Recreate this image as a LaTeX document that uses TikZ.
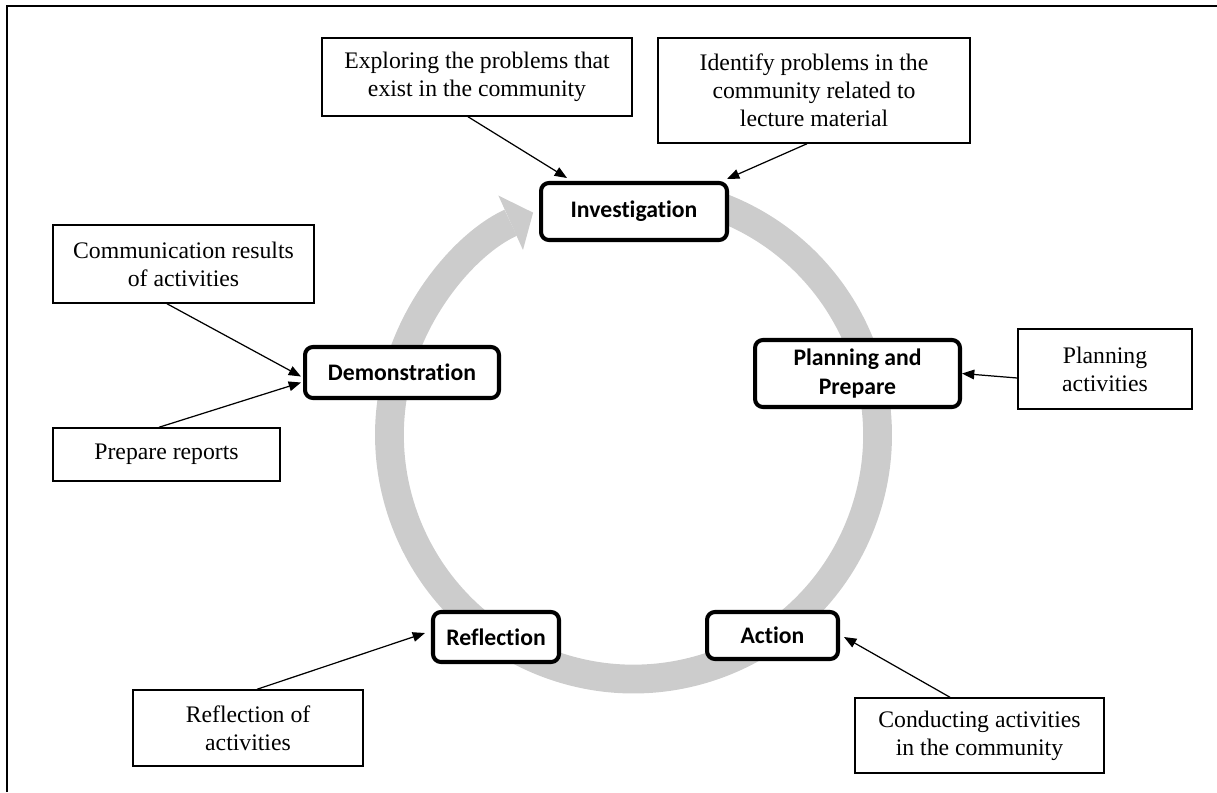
\documentclass[tikz,border=0pt]{standalone}
\usepackage{fontspec}
\setmainfont{Liberation Serif}
\newfontfamily\stagefont[Ligatures=NoCommon]{Carlito}
\usetikzlibrary{arrows.meta,calc}
\definecolor{ringgray}{RGB}{204,204,204}
\tikzstyle{every node}=[align=center,inner sep=0pt]
\tikzstyle{stage}=[draw=black,line width=2.3pt,rounded corners=4.5pt,fill=white,font=\stagefont\bfseries\fontsize{13.5}{16}\selectfont]
\tikzstyle{note}=[draw=black,line width=0.85pt,fill=white,font=\fontsize{13.5}{16}\selectfont]
\tikzstyle{link}=[line width=0.7pt,-{Triangle[length=7pt,width=5.5pt]}]

\begin{document}
\begin{tikzpicture}[x=0.02cm,y=-0.02cm]
  \useasboundingbox (0,0) rectangle (1217,792);
  \draw[line width=1.2pt] (7,792) -- (7,6) -- (1217,6);

  % the cycle
  \coordinate (hub) at (633.5,435);
  \draw[ringgray,line width=16.4pt,-{Triangle[length=14pt,width=34pt,line width=0pt]}]
    ($(hub)+(-70:244)$) arc[start angle=-70,end angle=245.7,radius=244];

  \node[stage,minimum width=3.72cm,minimum height=1.14cm] (invest) at (634,211.5) {Investigation};
  \node[stage,minimum width=4.1cm,minimum height=1.34cm] (plan) at (857.5,373.5) {Planning and\\Prepare};
  \node[stage,minimum width=2.62cm,minimum height=0.94cm] (act) at (772.5,635.5) {Action};
  \node[stage,minimum width=2.52cm,minimum height=1.0cm] (refl) at (496,637) {Reflection};
  \node[stage,minimum width=3.88cm,minimum height=1.02cm] (demo) at (402,372.5) {Demonstration};

  \node[note,minimum width=6.2cm,minimum height=1.56cm] (explore) at (477,77) {Exploring the problems that\\exist in the community};
  \node[note,minimum width=6.24cm,minimum height=2.1cm] (ident) at (814,90.5) {Identify problems in the\\community related to\\lecture material};
  \node[note,minimum width=5.22cm,minimum height=1.56cm] (comm) at (183.5,264) {Communication results\\of activities};
  \node[note,minimum width=4.54cm,minimum height=1.06cm] (prep) at (166.5,454.5) {Prepare reports};
  \node[note,minimum width=3.48cm,minimum height=1.6cm] (planact) at (1105,369) {Planning\\activities};
  \node[note,minimum width=4.6cm,minimum height=1.52cm] (reflact) at (248,728) {Reflection of\\activities};
  \node[note,minimum width=4.98cm,minimum height=1.5cm] (cond) at (979.5,735.5) {Conducting activities\\in the community};

  \draw[link] ($(explore.south)+(-9,0)$) -- ($(invest.north west)+(28,-3)$);
  \draw[link] ($(ident.south)+(-7,0)$) -- ($(invest.north east)+(-2,-2)$);
  \draw[link] ($(comm.south)+(-16.5,0)$) -- ($(demo.west)+(-2,4)$);
  \draw[link] ($(prep.north)+(-7.5,0)$) -- ($(demo.west)+(-2,10)$);
  \draw[link] ($(planact.west)+(0,9)$) -- (plan.east);
  \draw[link] ($(reflact.north)+(9,0)$) -- ($(refl.west)+(-6,-4)$);
  \draw[link] ($(cond.north)+(-29.5,0)$) -- ($(act.east)+(4,1.5)$);
\end{tikzpicture}
\end{document}
